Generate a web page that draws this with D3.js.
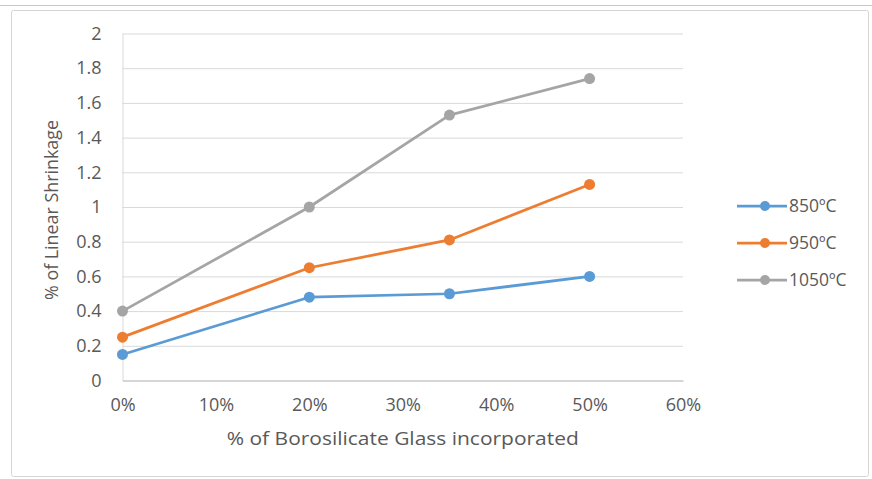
<!DOCTYPE html>
<html>
<head>
<meta charset="utf-8">
<script src="https://cdn.jsdelivr.net/npm/d3@7"></script>
<style>
  html, body { margin: 0; padding: 0; background: #fff; }
  svg { display: block; }
  text { font-family: "Open Sans", "Noto Sans", sans-serif; fill: #595959; }
</style>
</head>
<body>
<svg id="chart" width="872" height="479"></svg>
<script>
// Linear shrinkage vs. borosilicate glass content, per firing temperature
const glassShare = [0, 0.20, 0.35, 0.50];
const seriesNames = ["850ºC", "950ºC", "1050ºC"];
const shrink850 = [0.15, 0.48, 0.50, 0.60];
const shrink950 = [0.25, 0.65, 0.81, 1.13];
const shrink1050 = [0.40, 1.00, 1.53, 1.74];
const seriesColors = ["#5B9BD5", "#ED7D31", "#A5A5A5"];
const xTicks = [0, 0.1, 0.2, 0.3, 0.4, 0.5, 0.6];
const yTicks = [0, 0.2, 0.4, 0.6, 0.8, 1, 1.2, 1.4, 1.6, 1.8, 2];

const series = [shrink850, shrink950, shrink1050].map((vals, i) => ({
  name: seriesNames[i],
  color: seriesColors[i],
  points: vals.map((v, j) => ({ x: glassShare[j], y: v }))
}));

const svg = d3.select("#chart");

// chart frame
svg.append("line").attr("x1", 0).attr("x2", 872).attr("y1", 5.5).attr("y2", 5.5)
  .attr("stroke", "#c8c8c8").attr("stroke-width", 1);
svg.append("rect").attr("x", 11.5).attr("y", 10.5).attr("width", 857).attr("height", 466)
  .attr("fill", "#fff").attr("stroke", "#d4d4d4").attr("stroke-width", 1).attr("rx", 2);

const x = d3.scaleLinear().domain([0, 0.6]).range([122.5, 683]);
const y = d3.scaleLinear().domain([0, 2]).range([380.5, 33.5]);

// horizontal gridlines
svg.append("g")
  .attr("transform", `translate(${x(0)},0)`)
  .call(d3.axisLeft(y).tickValues(yTicks).tickSize(-(x(0.6) - x(0))).tickFormat(""))
  .call(g => g.select(".domain").remove())
  .call(g => g.selectAll("line").attr("stroke", "#d9d9d9").attr("stroke-width", 1));

// y axis with labels
svg.append("g")
  .attr("transform", `translate(${x(0)},0)`)
  .call(d3.axisLeft(y).tickValues(yTicks).tickSize(0).tickPadding(21).tickFormat(d3.format("~g")))
  .call(g => g.select(".domain").attr("stroke", "#d9d9d9"))
  .call(g => g.selectAll("text").attr("font-size", 18).style("fill", "#595959")
    .style("font-family", "'Open Sans', sans-serif"));

// x axis with labels
svg.append("g")
  .attr("transform", `translate(0,${y(0)})`)
  .call(d3.axisBottom(x).tickValues(xTicks).tickSize(0).tickPadding(18).tickFormat(d3.format(".0%")))
  .call(g => g.select(".domain").attr("stroke", "#bfbfbf"))
  .call(g => g.selectAll("text").attr("font-size", 18).style("fill", "#595959")
    .style("font-family", "'Open Sans', sans-serif"));

// axis titles
svg.append("text")
  .attr("x", (x(0) + x(0.6)) / 2).attr("y", 445)
  .attr("text-anchor", "middle").attr("font-size", 17.5)
  .attr("textLength", 352).attr("lengthAdjust", "spacingAndGlyphs")
  .text("% of Borosilicate Glass incorporated");
svg.append("text")
  .attr("transform", "translate(58,210) rotate(-90)")
  .attr("text-anchor", "middle").attr("font-size", 17.5)
  .attr("textLength", 180).attr("lengthAdjust", "spacingAndGlyphs")
  .text("% of Linear Shrinkage");

// series lines and markers
const line = d3.line().x(d => x(d.x)).y(d => y(d.y));
const gSeries = svg.append("g");
series.forEach(s => {
  gSeries.append("path").datum(s.points)
    .attr("d", line).attr("fill", "none")
    .attr("stroke", s.color).attr("stroke-width", 2.75).attr("stroke-linejoin", "round");
  gSeries.selectAll(null).data(s.points).enter().append("circle")
    .attr("cx", d => x(d.x)).attr("cy", d => y(d.y)).attr("r", 5.5)
    .attr("fill", s.color);
});

// legend
const legend = svg.append("g");
series.forEach((s, i) => {
  const ly = 206 + i * 37;
  legend.append("line").attr("x1", 737).attr("x2", 787).attr("y1", ly).attr("y2", ly)
    .attr("stroke", s.color).attr("stroke-width", 2.75);
  legend.append("circle").attr("cx", 765).attr("cy", ly).attr("r", 5).attr("fill", s.color);
  legend.append("text").attr("x", 789).attr("y", ly + 6).attr("font-size", 17.5).text(s.name);
});
</script>
</body>
</html>
